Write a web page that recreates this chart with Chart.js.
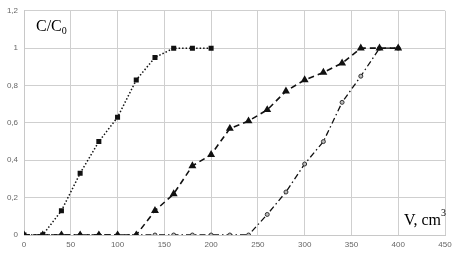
<!DOCTYPE html>
<html>
<head>
<meta charset="utf-8">
<script src="https://cdn.jsdelivr.net/npm/chart.js@4/dist/chart.umd.min.js"></script>
<style>
  html, body { margin: 0; padding: 0; background: #fff; }
  #wrap { width: 463px; height: 262px; }
</style>
</head>
<body>
<div id="wrap"><canvas id="breakthrough"></canvas></div>
<script>
// volumes, cm3
var volumes = [0, 20, 40, 60, 80, 100, 120, 140, 160, 180, 200, 220, 240, 260, 280, 300, 320, 340, 360, 380, 400];
// C/C0 for the three columns
var seriesA = [0, 0, 0.13, 0.33, 0.5, 0.63, 0.83, 0.95, 1, 1, 1];
var seriesB = [0, 0, 0, 0, 0, 0, 0, 0.13, 0.22, 0.37, 0.43, 0.57, 0.61, 0.67, 0.77, 0.83, 0.87, 0.92, 1, 1, 1];
var seriesC = [0, 0, 0, 0, 0, 0, 0, 0, 0, 0, 0, 0, 0, 0.11, 0.23, 0.38, 0.5, 0.71, 0.85, 1, 1];
var xTicks = [0, 50, 100, 150, 200, 250, 300, 350, 400, 450];
var yTicks = [0, 0.2, 0.4, 0.6, 0.8, 1, 1.2];

function pts(vals) {
    return vals.map(function (v, i) { return { x: volumes[i], y: v }; });
}

var labelsPlugin = {
    id: 'axisNames',
    afterDraw: function (chart) {
        var ctx = chart.ctx;
        ctx.save();
        ctx.fillStyle = '#000';
        ctx.font = '16px "Liberation Serif", "Times New Roman", serif';
        ctx.textBaseline = 'alphabetic';
        ctx.fillText('C/C', 36, 31);
        var w = ctx.measureText('C/C').width;
        ctx.font = '10px "Liberation Serif", serif';
        ctx.fillText('0', 36 + w, 34);
        ctx.font = '16px "Liberation Serif", "Times New Roman", serif';
        ctx.textAlign = 'right';
        ctx.fillText('V, cm', 441, 225);
        ctx.font = '10px "Liberation Serif", serif';
        ctx.textAlign = 'left';
        ctx.fillText('3', 441, 216);
        ctx.restore();
    }
};

document.addEventListener('DOMContentLoaded', function () {
    var ctx = document.getElementById('breakthrough').getContext('2d');
    new Chart(ctx, {
        type: 'line',
        data: {
            datasets: [{
                data: pts(seriesA),
                borderColor: '#111',
                borderWidth: 1.5,
                borderDash: [1.5, 2],
                pointStyle: 'rect',
                pointRadius: 2.5,
                pointBackgroundColor: '#111',
                pointBorderColor: '#111',
                fill: false
            }, {
                data: pts(seriesB),
                borderColor: '#111',
                borderWidth: 1.6,
                borderDash: [6, 4],
                pointStyle: 'triangle',
                pointRadius: 3,
                pointBackgroundColor: '#111',
                pointBorderColor: '#111',
                fill: false
            }, {
                data: pts(seriesC),
                borderColor: '#111',
                borderWidth: 1.3,
                borderDash: [6, 3, 1.5, 3],
                pointStyle: 'circle',
                pointRadius: 2,
                pointBackgroundColor: '#bbb',
                pointBorderColor: '#333',
                pointBorderWidth: 1,
                fill: false
            }]
        },
        options: {
            responsive: true,
            maintainAspectRatio: false,
            animation: false,
            layout: { padding: { top: 7, right: 18, left: 0, bottom: 0 } },
            scales: {
                x: {
                    type: 'linear',
                    min: 0,
                    max: 450,
                    afterBuildTicks: function (axis) {
                        axis.ticks = xTicks.map(function (v) { return { value: v }; });
                    },
                    afterFit: function (axis) { axis.height = 27; },
                    grid: { color: '#cfcfcf', lineWidth: 1, drawTicks: false },
                    border: { color: '#c8c8c8' },
                    ticks: {
                        color: '#666',
                        font: { size: 8, family: 'Liberation Sans, Arial, sans-serif' },
                        padding: 5,
                        maxRotation: 0
                    }
                },
                y: {
                    min: 0,
                    max: 1.2,
                    afterBuildTicks: function (axis) {
                        axis.ticks = yTicks.map(function (v) { return { value: v }; });
                    },
                    afterFit: function (axis) { axis.width = 24; },
                    grid: { color: '#cfcfcf', lineWidth: 1, drawTicks: false },
                    border: { color: '#c8c8c8' },
                    ticks: {
                        color: '#666',
                        font: { size: 8, family: 'Liberation Sans, Arial, sans-serif' },
                        padding: 6,
                        callback: function (v) {
                            return String(Math.round(v * 10) / 10).replace('.', ',');
                        }
                    }
                }
            },
            plugins: {
                legend: { display: false },
                tooltip: { enabled: false }
            }
        },
        plugins: [labelsPlugin]
    });
});
</script>
</body>
</html>
